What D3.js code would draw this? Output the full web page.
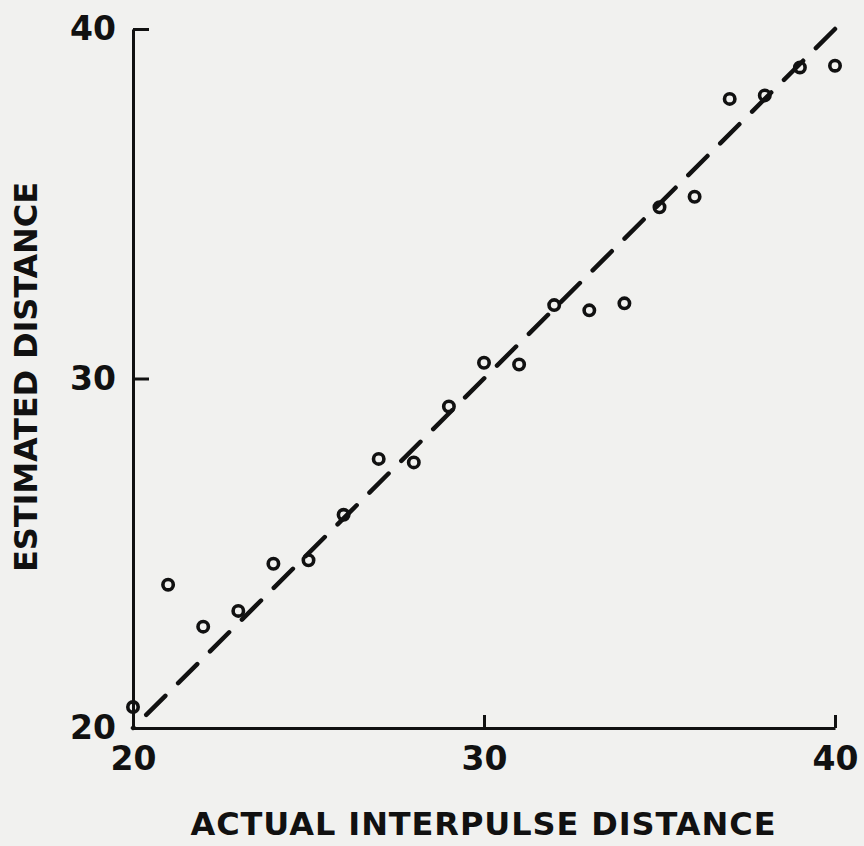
<!DOCTYPE html>
<html>
<head>
<meta charset="utf-8">
<script src="https://cdn.jsdelivr.net/npm/d3@7"></script>
<style>
  html, body { margin: 0; padding: 0; background: #f1f1ef; }
  svg { display: block; }
  .axis path, .axis line { stroke: #111; stroke-width: 3; }
  .axis text { font-family: "DejaVu Sans", sans-serif; font-weight: bold; font-size: 33px; fill: #111; }
  .label { font-family: "DejaVu Sans", sans-serif; font-weight: bold; font-size: 32px; fill: #111; }
</style>
</head>
<body>
<div id="chart"></div>
<script>
// actual interpulse distance vs estimated distance
var actual = [20, 21, 22, 23, 24, 25, 26, 27, 28, 29, 30, 31, 32, 33, 34, 35, 36, 37, 38, 39, 40];
var estimated = [20.6, 24.1, 22.9, 23.35, 24.7, 24.8, 26.1, 27.7, 27.6, 29.2, 30.45, 30.4, 32.1, 31.95, 32.15, 34.9, 35.2, 38.0, 38.1, 38.9, 38.95];
var xTicks = [20, 30, 40];
var yTicks = [20, 30, 40];
var fitLine = [[40, 40], [20, 20]];   // y = x, drawn top to bottom

var fullwidth = 864;
var fullheight = 846;

var svg = d3.select("#chart")
  .append("svg")
  .attr("width", fullwidth)
  .attr("height", fullheight);

var xScale = d3.scaleLinear().domain([20, 40]).range([133, 835]);
var yScale = d3.scaleLinear().domain([20, 40]).range([728, 29]);

var xAxis = d3.axisBottom(xScale)
  .tickValues(xTicks)
  .tickSizeInner(-13)
  .tickSizeOuter(0)
  .tickPadding(19)
  .tickFormat(d3.format("d"));

var yAxis = d3.axisLeft(yScale)
  .tickValues(yTicks)
  .tickSizeInner(-16)
  .tickSizeOuter(0)
  .tickPadding(17)
  .tickFormat(d3.format("d"));

svg.append("g")
  .attr("class", "x axis")
  .attr("transform", "translate(0," + yScale(20) + ")")
  .call(xAxis);

svg.append("g")
  .attr("class", "y axis")
  .attr("transform", "translate(" + xScale(20) + ",0)")
  .call(yAxis);

// the 20 ticks sit on the corner, drop their lines
svg.selectAll(".tick line").filter(function(d) { return d === 20; }).remove();

var line = d3.line()
  .x(function(d) { return xScale(d[0]); })
  .y(function(d) { return yScale(d[1]); });

svg.append("path")
  .datum(fitLine)
  .attr("d", line)
  .attr("fill", "none")
  .attr("stroke", "#111")
  .attr("stroke-width", 4.5)
  .attr("stroke-linecap", "round")
  .attr("stroke-dasharray", "27,18");

var points = actual.map(function(a, i) { return { x: a, y: estimated[i] }; });

svg.selectAll("circle.pt")
  .data(points)
  .enter()
  .append("circle")
  .attr("class", "pt")
  .attr("cx", function(d) { return xScale(d.x); })
  .attr("cy", function(d) { return yScale(d.y); })
  .attr("r", 5.2)
  .attr("fill", "none")
  .attr("stroke", "#111")
  .attr("stroke-width", 3.6);

// axis titles
svg.append("text")
  .attr("class", "label")
  .attr("x", 483)
  .attr("y", 835)
  .attr("text-anchor", "middle")
  .attr("textLength", 585)
  .attr("lengthAdjust", "spacing")
  .text("ACTUAL INTERPULSE DISTANCE");

svg.append("text")
  .attr("class", "label")
  .attr("transform", "translate(37,377) rotate(-90)")
  .attr("text-anchor", "middle")
  .attr("textLength", 390)
  .attr("lengthAdjust", "spacing")
  .text("ESTIMATED DISTANCE");
</script>
</body>
</html>
